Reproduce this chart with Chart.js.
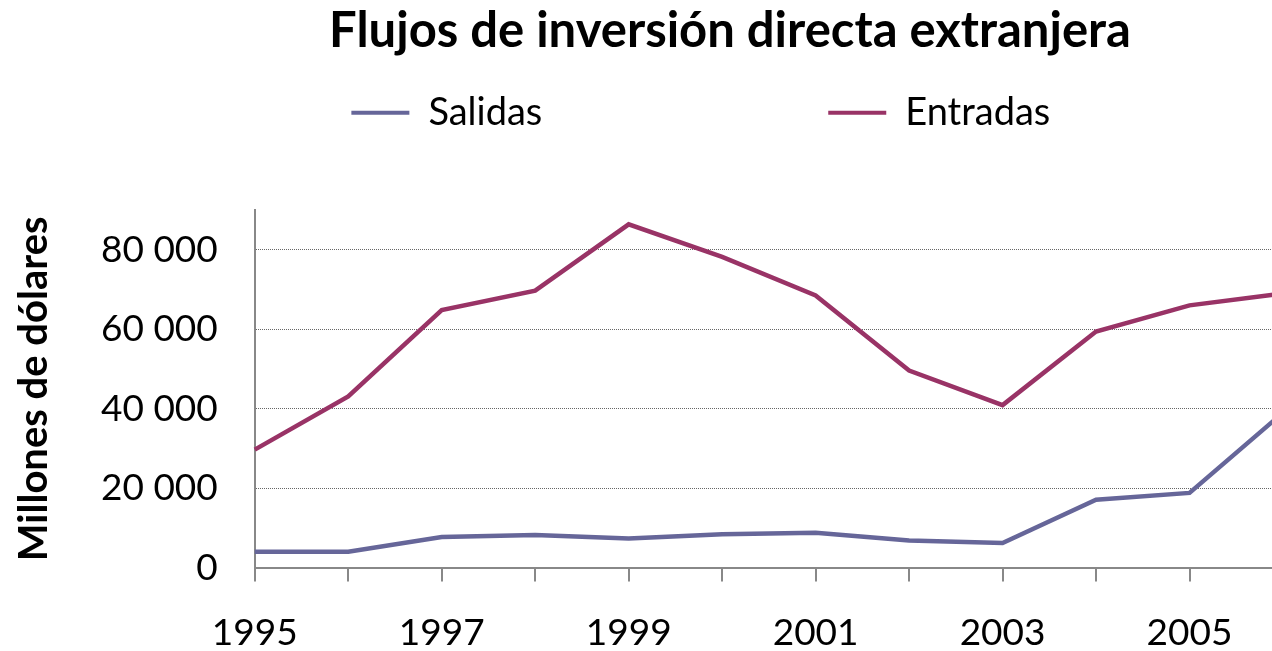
<!DOCTYPE html>
<html>
<head>
<meta charset="utf-8">
<script src="https://cdn.jsdelivr.net/npm/chart.js@4/dist/chart.umd.min.js"></script>
<style>
  html, body { margin: 0; padding: 0; background: #fff; overflow: hidden; }
  #wrap { position: relative; width: 1460px; height: 684px; }
</style>
</head>
<body>
<div id="wrap"><canvas id="ied"></canvas></div>
<script>
// Flujos de inversión directa extranjera (millones de dólares)
var years = ['1995', '1996', '1997', '1998', '1999', '2000', '2001', '2002', '2003', '2004', '2005', '2006'];
var salidas = [4000, 4000, 7700, 8200, 7300, 8400, 8800, 6800, 6200, 17100, 18800, 39000];
var entradas = [29700, 43100, 64800, 69700, 86400, 78200, 68500, 49600, 40900, 59400, 66000, 69000];
var yTicks = [0, 20000, 40000, 60000, 80000];

var FONT = 'Lato';
var GRAY = '#888888';

function fmt(v) {
    return String(v).replace(/\B(?=(\d{3})+(?!\d))/g, ' ');
}

// pad legend text with trailing spaces so the two items sit far apart
function padText(ctx, text, width) {
    ctx.save();
    ctx.font = '38px ' + FONT;
    var s = text;
    while (ctx.measureText(s).width < width) s += ' ';
    ctx.restore();
    return s;
}

var legendWidths = [366, 201];

function draw() {
    new Chart(document.getElementById('ied'), {
        type: 'line',
        data: {
            labels: years,
            datasets: [{
                label: 'Salidas',
                data: salidas,
                borderColor: '#666699',
                backgroundColor: '#666699',
                borderWidth: 4.5,
                pointRadius: 0,
                tension: 0
            }, {
                label: 'Entradas',
                data: entradas,
                borderColor: '#993366',
                backgroundColor: '#993366',
                borderWidth: 4.5,
                pointRadius: 0,
                tension: 0
            }]
        },
        options: {
            responsive: true,
            maintainAspectRatio: false,
            animation: false,
            layout: { padding: 0 },
            plugins: {
                tooltip: { enabled: false },
                title: {
                    display: true,
                    text: 'Flujos de inversión directa extranjera',
                    color: '#000',
                    font: { family: FONT, size: 49, weight: 'bold' },
                    padding: { top: 2, bottom: 0 }
                },
                subtitle: {
                    // empty spacer between legend and plot
                    display: true,
                    text: '',
                    weight: 900,
                    font: { size: 1 },
                    padding: { top: 0, bottom: 67 }
                },
                legend: {
                    position: 'top',
                    labels: {
                        color: '#000',
                        font: { family: FONT, size: 38 },
                        boxWidth: 58,
                        boxHeight: 4,
                        padding: 33,
                        generateLabels: function(chart) {
                            var items = Chart.defaults.plugins.legend.labels.generateLabels(chart);
                            items.forEach(function(it, i) {
                                it.lineWidth = 0;
                                it.fillStyle = chart.data.datasets[i].borderColor;
                                it.text = padText(chart.ctx, it.text, legendWidths[i]);
                            });
                            return items;
                        }
                    }
                }
            },
            scales: {
                x: {
                    offset: false,
                    grid: {
                        drawOnChartArea: false,
                        drawTicks: true,
                        tickLength: 14,
                        color: GRAY,
                        lineWidth: 2
                    },
                    border: { display: true, color: GRAY, width: 2 },
                    ticks: {
                        autoSkip: false,
                        maxRotation: 0,
                        padding: 29,
                        color: '#000',
                        font: { family: FONT, size: 37 },
                        callback: function(v, i) { return i % 2 === 0 ? years[i] : ''; }
                    }
                },
                y: {
                    min: 0,
                    max: 90000,
                    afterBuildTicks: function(axis) {
                        axis.ticks = yTicks.map(function(v) { return { value: v }; });
                    },
                    grid: {
                        drawTicks: false,
                        color: function(c) { return c.tick && c.tick.value === 0 ? 'rgba(0,0,0,0)' : '#666666'; },
                        lineWidth: 1
                    },
                    border: { display: true, color: GRAY, width: 2, dash: [1, 1] },
                    ticks: {
                        padding: 37,
                        color: '#000',
                        font: { family: FONT, size: 37 },
                        callback: function(v) { return fmt(v); }
                    },
                    title: {
                        display: true,
                        text: 'Millones de dólares',
                        color: '#000',
                        font: { family: FONT, size: 40, weight: 'bold' },
                        padding: { top: 10, bottom: 6 }
                    }
                },
                // blank right-hand strip: the original chart runs past the picture edge
                pad: {
                    type: 'linear',
                    position: 'right',
                    grid: { display: false },
                    border: { display: false },
                    ticks: { display: false },
                    afterFit: function(scale) { scale.width = 177; }
                }
            }
        }
    });
}

if (document.fonts && document.fonts.load) {
    Promise.all([
        document.fonts.load('37px Lato'),
        document.fonts.load('bold 49px Lato')
    ]).then(draw, draw);
} else {
    draw();
}
</script>
</body>
</html>
